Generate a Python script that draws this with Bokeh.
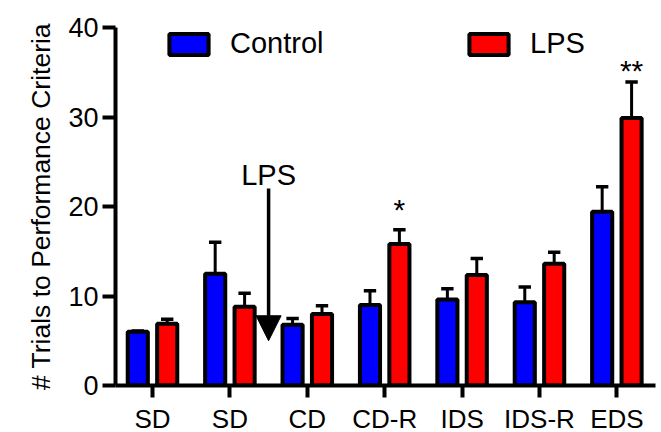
from bokeh.plotting import figure
from bokeh.models import (Range1d, FixedTicker, Legend, LegendItem, Arrow, NormalHead, Label,
                          ColumnDataSource, Title)
from bokeh.embed import file_html
from bokeh.resources import INLINE
from bokeh.core.properties import value

categories = ["SD", "SD", "CD", "CD-R", "IDS", "IDS-R", "EDS"]
control_mean = [6.0, 12.5, 6.8, 9.0, 9.6, 9.3, 19.4]
control_err = [0.1, 3.5, 0.7, 1.6, 1.2, 1.7, 2.8]
lps_mean = [6.9, 8.8, 8.0, 15.8, 12.35, 13.6, 29.9]
lps_err = [0.5, 1.5, 0.9, 1.6, 1.85, 1.3, 4.0]
sig_index = [3, 6]
sig_text = ["*", "**"]
sig_y = [19.65, 35.15]
y_ticks = [0, 10, 20, 30, 40]
y_title = "# Trials to Performance Criteria"
arrow_label = "LPS"
arrow_x = 1.5
arrow_from = 22.0
arrow_to = 5.0

FONT = "Liberation Sans"
OFF = 0.19
BW = 0.26
CAP = 0.08

xs = list(range(len(categories)))

p = figure(frame_width=540, frame_height=358, min_border_left=115, min_border_top=27,
           min_border_right=5, min_border_bottom=44,
           x_range=Range1d(-0.478, 6.499), y_range=Range1d(0, 40),
           output_backend="svg", toolbar_location=None)
p.outline_line_color = None
p.xgrid.visible = False
p.ygrid.visible = False
p.background_fill_color = "white"

def group(offset, means, errs, color):
    x = [i + offset for i in xs]
    tops = [m + e for m, e in zip(means, errs)]
    src = ColumnDataSource(dict(x=x, m=means, t=tops,
                                x0=[v - CAP for v in x], x1=[v + CAP for v in x]))
    p.segment(x0="x", y0="m", x1="x", y1="t", source=src, line_color="black", line_width=3)
    p.segment(x0="x0", y0="t", x1="x1", y1="t", source=src, line_color="black", line_width=3.5)
    r = p.vbar(x="x", top="m", bottom=0, width=BW, source=src, fill_color=color,
               line_color="black", line_width=4)
    return r

r_ctrl = group(-OFF, control_mean, control_err, "#0000FF")
r_lps = group(OFF, lps_mean, lps_err, "#FF0000")

# significance marks
sig_src = ColumnDataSource(dict(x=[xs[i] + OFF for i in sig_index], y=sig_y, t=sig_text))
p.text(x="x", y="y", text="t", source=sig_src, text_align="center", text_baseline="middle",
       text_font=value(FONT), text_font_size="30px", text_color="black")

# LPS arrow
p.add_layout(Arrow(end=NormalHead(size=25, fill_color="black", line_color="black"),
                   x_start=arrow_x, y_start=arrow_from, x_end=arrow_x, y_end=arrow_to,
                   line_width=3.5, line_color="black"))
p.add_layout(Label(x=arrow_x, y=arrow_from, text=arrow_label, text_align="center",
                   text_baseline="middle", text_font=FONT, text_font_size="29px",
                   text_color="black", y_offset=14))

# y-axis title as a side title
p.add_layout(Title(text=y_title, align="center", offset=-13, standoff=20,
                   text_font=FONT, text_font_size="26.5px", text_font_style="normal",
                   text_color="black"), "left")

# axes
p.xaxis.ticker = FixedTicker(ticks=xs)
p.xaxis.major_label_overrides = {i: c for i, c in zip(xs, categories)}
p.yaxis.ticker = FixedTicker(ticks=y_ticks)
for ax in (p.xaxis[0], p.yaxis[0]):
    ax.axis_line_width = 4
    ax.axis_line_color = "black"
    ax.major_tick_line_width = 4
    ax.major_tick_line_color = "black"
    ax.minor_tick_line_color = None
    ax.major_tick_in = 0
    ax.major_label_text_font = FONT
    ax.major_label_text_color = "black"
p.xaxis.major_tick_out = 12
p.yaxis.major_tick_out = 13
p.xaxis.major_label_text_font_size = "26px"
p.yaxis.major_label_text_font_size = "27px"
p.xaxis.major_label_standoff = 6
p.yaxis.major_label_standoff = 4

def add_legend(label, r, x, y):
    lg = Legend(items=[LegendItem(label=label, renderers=[r])], location=(x, y),
                glyph_width=49, glyph_height=26, label_standoff=17,
                label_text_font=FONT, label_text_font_size="29px", label_text_color="black",
                padding=0, margin=0, border_line_color=None, background_fill_alpha=0,
                label_height=26)
    p.add_layout(lg)

add_legend("Control", r_ctrl, 49, 325)
add_legend("LPS", r_lps, 349, 325)

open("out.html", "w").write(file_html(p, INLINE))
